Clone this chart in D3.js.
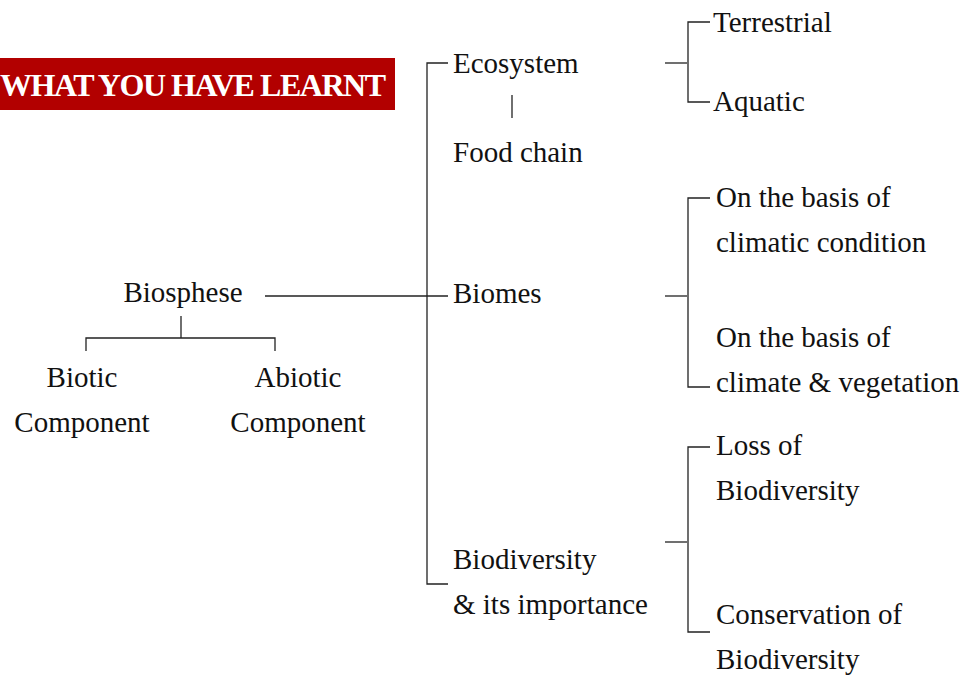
<!DOCTYPE html>
<html>
<head>
<meta charset="utf-8">
<script src="https://cdn.jsdelivr.net/npm/d3@7"></script>
<style>
  body { margin: 0; background: #fff; }
  svg { display: block; }
</style>
</head>
<body>
<div id="chart"></div>
<script>
// diagram content
const title = "WHAT YOU HAVE LEARNT";
const rootLabel = ["Biosphese"];
const components = [["Biotic", "Component"], ["Abiotic", "Component"]];
const topics = [["Ecosystem"], ["Biomes"], ["Biodiversity", "& its importance"]];
const ecosystemChild = ["Food chain"];
const subtopics = [
    [["Terrestrial"], ["Aquatic"]],
    [["On the basis of", "climatic condition"], ["On the basis of", "climate & vegetation"]],
    [["Loss of", "Biodiversity"], ["Conservation of", "Biodiversity"]]
];

// layout (kept apart from the content)
const width = 975, height = 675;
const lineGap = 45;
const layout = {
    root: {x: 183, y: 302},
    comps: [{x: 82, y: 387}, {x: 298, y: 387}],
    spineX: 427,
    topicX: 453,
    topicY: [73, 303, 569],
    childY: 162,
    subX: 716,
    subY: [[32, 111], [207, 347], [455, 624]],
    bracketX: 688,
    tickY: [63, 296, 542],
    armY: [[22, 102], [198, 387], [447, 632]]
};

const svg = d3.select("#chart").append("svg")
    .attr("width", width)
    .attr("height", height);

// banner
svg.append("rect")
    .attr("x", 0).attr("y", 58)
    .attr("width", 395).attr("height", 52)
    .attr("fill", "#b20000");
svg.append("text")
    .attr("x", 0).attr("y", 96)
    .attr("font-family", "Liberation Serif, Times New Roman, serif")
    .attr("font-weight", "bold")
    .attr("font-size", 32)
    .attr("fill", "#fff")
    .attr("textLength", 386)
    .attr("lengthAdjust", "spacing")
    .text(title);

const line = d3.line();
const links = svg.append("g")
    .attr("fill", "none")
    .attr("stroke", "#222")
    .attr("stroke-width", 1.3);

function addLabel(lines, x, y, anchor) {
    const t = svg.append("text")
        .attr("font-family", "Liberation Serif, Times New Roman, serif")
        .attr("font-size", 29)
        .attr("fill", "#111")
        .attr("text-anchor", anchor || "start");
    lines.forEach((s, i) => {
        t.append("tspan").attr("x", x).attr("y", y + i * lineGap).text(s);
    });
}

// root and its two components
addLabel(rootLabel, layout.root.x, layout.root.y, "middle");
components.forEach((c, i) => addLabel(c, layout.comps[i].x, layout.comps[i].y, "middle"));
links.append("path").attr("d", line([[181, 316], [181, 338]]));
links.append("path").attr("d", line([[86, 351], [86, 338], [275, 338], [275, 351]]));

// root to spine
links.append("path").attr("d", line([[265, 296], [448, 296]]));
const sx = layout.spineX;
links.append("path").attr("d", line([[448, layout.tickY[0]], [sx, layout.tickY[0]], [sx, 584], [448, 584]]));

// topics
topics.forEach((t, i) => addLabel(t, layout.topicX, layout.topicY[i]));
addLabel(ecosystemChild, layout.topicX, layout.childY);
links.append("path").attr("d", line([[512, 95], [512, 118]]));

// sub topics with brackets
subtopics.forEach((pair, i) => {
    const bx = layout.bracketX;
    const [a, b] = layout.armY[i];
    links.append("path").attr("d", line([[665, layout.tickY[i]], [bx - 1, layout.tickY[i]]]));
    links.append("path").attr("d", line([[bx + 22, a], [bx, a], [bx, b], [bx + 22, b]]));
    pair.forEach((p, j) => addLabel(p, layout.subX - (i === 0 ? 3 : 0), layout.subY[i][j]));
});
</script>
</body>
</html>
